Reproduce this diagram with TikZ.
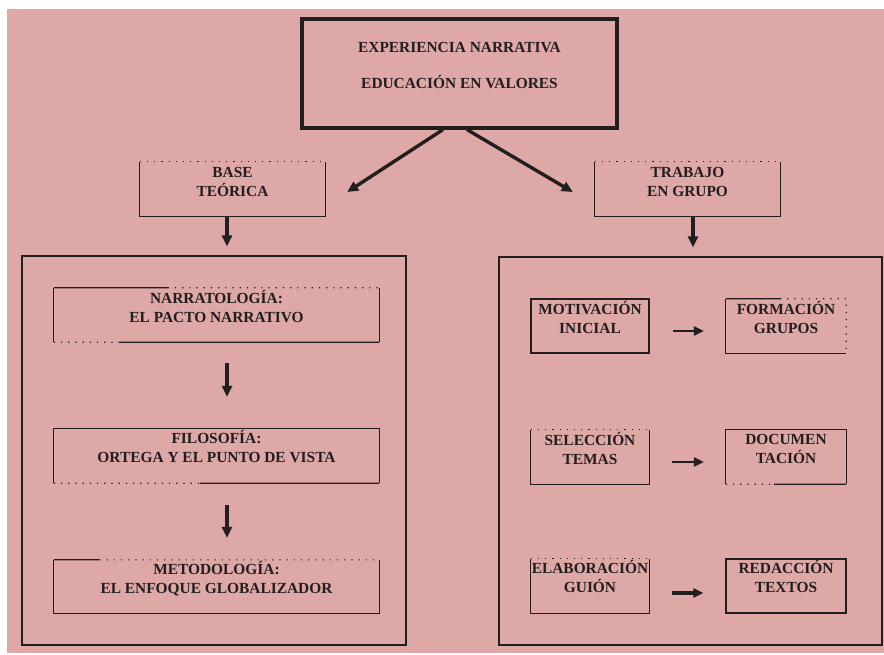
\documentclass[tikz,border=0pt]{standalone}
\usepackage{fontspec}
\setmainfont{Liberation Serif}
\usetikzlibrary{arrows.meta,calc}
\definecolor{bgpink}{RGB}{221,168,166}
\definecolor{ink}{RGB}{35,30,30}
\begin{document}
\begin{tikzpicture}[x=1pt,y=-1pt,
  box/.style={draw=ink, line width=1.2pt, inner sep=0pt},
  openbox/.style={inner sep=0pt},
  lbl/.style={font=\bfseries\fontsize{15.4}{19}\selectfont, align=center, text=ink, inner sep=0pt,
              execute at begin node=\strut, execute at end node=\strut},
  arr/.style={draw=ink, line width=3.4pt, -{Triangle[length=11pt,width=10pt]}},
  sarr/.style={draw=ink, line width=2.9pt, -{Triangle[length=10pt,width=9pt]}},
  sol/.style={draw=ink, line width=1.2pt},
  dotl/.style={draw=ink, line width=1.1pt, dash pattern=on 1.2pt off 6pt},
]
\useasboundingbox (0,0) rectangle (884,655);
\fill[white] (0,0) rectangle (884,655);
\fill[bgpink] (7,9) rectangle (884,653);

% top box
\node[box, line width=3.2pt, minimum width=315pt, minimum height=109pt] (top) at (459.5,73.5) {};
\node[lbl] (toptxt) at ($(top.north)+(0,51)$) {EXPERIENCIA NARRATIVA\\[17pt]EDUCACIÓN EN VALORES};

% second level
\node[openbox, minimum width=185pt, minimum height=54pt] (base) at (232.5,189) {};
\draw[sol] (base.north west) -- (base.south west) -- (base.south east) -- (base.north east);
\draw[dotl] (base.north west) -- (base.north east);
\node[lbl] (basetxt) at ($(base.north)+(0,22.5)$) {BASE\\TEÓRICA};

\node[openbox, minimum width=185pt, minimum height=54pt] (trab) at (687.5,189) {};
\draw[sol] (trab.north west) -- (trab.south west) -- (trab.south east) -- (trab.north east);
\draw[dotl] (trab.north west) -- (trab.north east);
\node[lbl] (trabtxt) at ($(trab.north)+(0,22.5)$) {TRABAJO\\EN GRUPO};

% big boxes
\node[box, minimum width=384pt, minimum height=389pt] (lbig) at (214,450.5) {};
\node[box, minimum width=383pt, minimum height=388pt] (rbig) at (690.5,451) {};

% left column
\node[openbox, minimum width=325pt, minimum height=54pt] (narr) at (216.5,315) {};
\draw[sol] (narr.north west) -- (narr.south west);
\draw[sol] (narr.north east) -- (narr.south east);
\draw[sol] (narr.north west) -- ($(narr.north west)!0.35!(narr.north east)$);
\draw[dotl] ($(narr.north west)!0.35!(narr.north east)$) -- (narr.north east);
\draw[dotl] (narr.south west) -- ($(narr.south west)!0.2!(narr.south east)$);
\draw[sol] ($(narr.south west)!0.2!(narr.south east)$) -- (narr.south east);
\node[lbl] (narrtxt) at ($(narr.north)+(0,21.5)$) {NARRATOLOGÍA:\\EL PACTO NARRATIVO};

\node[openbox, minimum width=325pt, minimum height=54pt] (filo) at (216.5,456) {};
\draw[sol] (filo.south west) -- (filo.north west) -- (filo.north east) -- (filo.south east);
\draw[dotl] (filo.south west) -- ($(filo.south west)!0.45!(filo.south east)$);
\draw[sol] ($(filo.south west)!0.45!(filo.south east)$) -- (filo.south east);
\node[lbl] (filotxt) at ($(filo.north)+(0,20.7)$) {FILOSOFÍA:\\ORTEGA Y EL PUNTO DE VISTA};

\node[openbox, minimum width=325pt, minimum height=53pt] (meto) at (216.5,586.5) {};
\draw[sol] (meto.north west) -- (meto.south west) -- (meto.south east) -- (meto.north east);
\draw[sol] (meto.north west) -- ($(meto.north west)!0.14!(meto.north east)$);
\draw[dotl] ($(meto.north west)!0.14!(meto.north east)$) -- (meto.north east);
\node[lbl] (metotxt) at ($(meto.north)+(0,20)$) {METODOLOGÍA:\\EL ENFOQUE GLOBALIZADOR};

% right column
\node[box, minimum width=118pt, minimum height=54pt] (motiv) at (590,326) {};
\node[lbl] (motivtxt) at ($(motiv.north)+(0,21.5)$) {MOTIVACIÓN\\INICIAL};

\node[openbox, minimum width=120pt, minimum height=54pt] (form) at (786,326) {};
\draw[sol] (form.north west) -- (form.south west) -- (form.south east);
\draw[sol] (form.north west) -- ($(form.north west)!0.45!(form.north east)$);
\draw[dotl] ($(form.north west)!0.45!(form.north east)$) -- (form.north east) -- (form.south east);
\node[lbl] (formtxt) at ($(form.north)+(0,21.5)$) {FORMACIÓN\\GRUPOS};

\node[openbox, minimum width=118pt, minimum height=54pt] (selec) at (590,457) {};
\draw[sol] (selec.north west) -- (selec.south west) -- (selec.south east) -- (selec.north east);
\draw[dotl] (selec.north west) -- (selec.north east);
\node[lbl] (selectxt) at ($(selec.north)+(0,21.5)$) {SELECCIÓN\\TEMAS};

\node[openbox, minimum width=120pt, minimum height=54pt] (docu) at (786,457) {};
\draw[sol] (docu.south west) -- (docu.north west) -- (docu.north east) -- (docu.south east);
\draw[dotl] (docu.south west) -- ($(docu.south west)!0.4!(docu.south east)$);
\draw[sol] ($(docu.south west)!0.4!(docu.south east)$) -- (docu.south east);
\node[lbl] (docutxt) at ($(docu.north)+(0,21.5)$) {DOCUMEN\\TACIÓN};

\node[openbox, minimum width=118pt, minimum height=54pt] (elab) at (590,586) {};
\draw[sol] (elab.north west) -- (elab.south west) -- (elab.south east) -- (elab.north east);
\draw[dotl] (elab.north west) -- (elab.north east);
\node[lbl] (elabtxt) at ($(elab.north)+(0,20.5)$) {ELABORACIÓN\\GUIÓN};

\node[box, minimum width=120pt, minimum height=54pt] (redac) at (786,586) {};
\node[lbl] (redactxt) at ($(redac.north)+(0,20.5)$) {REDACCIÓN\\TEXTOS};

% arrows
\draw[arr] ($(top.south)+(-16.5,0)$) -- ($(base.east)+(22,3)$);
\draw[arr] ($(top.south)+(7.5,0)$) -- ($(trab.west)+(-22,3)$);
\draw[arr, shorten >=9pt] ($(base.south)+(-5.5,0)$) -- ($(base.south |- lbig.north)+(-5.5,0)$);
\draw[arr, shorten >=9pt] ($(trab.south)+(5.5,0)$) -- ($(trab.south |- rbig.north)+(5.5,0)$);
\draw[arr, shorten <=21pt, shorten >=32pt] ($(narr.south)+(10.5,0)$) -- ($(filo.north)+(10.5,0)$);
\draw[arr, shorten <=22pt, shorten >=22pt] ($(filo.south)+(10.5,0)$) -- ($(meto.north)+(10.5,0)$);
\draw[sarr, shorten <=23pt, shorten >=22pt] ($(motiv.east)+(0,5)$) -- ($(form.west)+(0,5)$);
\draw[sarr, shorten <=23pt, shorten >=22pt] ($(selec.east)+(0,5)$) -- ($(docu.west)+(0,5)$);
\draw[sarr, line width=3.2pt, shorten <=23pt, shorten >=22pt] ($(elab.east)+(0,7)$) -- ($(redac.west)+(0,7)$);
\end{tikzpicture}
\end{document}
